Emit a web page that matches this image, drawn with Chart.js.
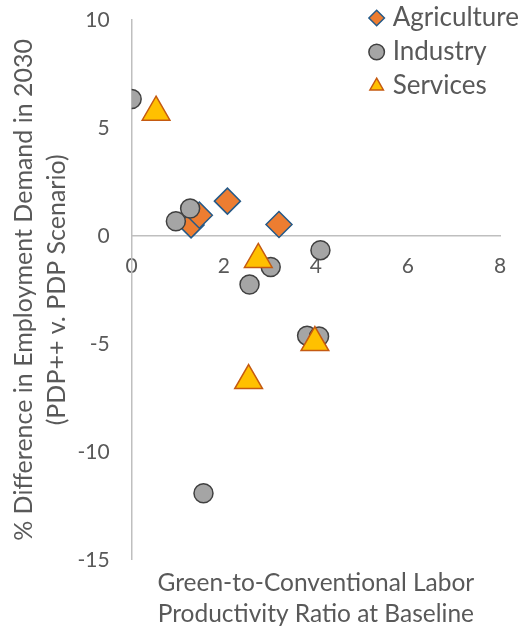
<!DOCTYPE html>
<html>
<head>
<meta charset="utf-8">
<script src="https://cdn.jsdelivr.net/npm/chart.js@4.4.1/dist/chart.umd.min.js"></script>
<style>
    html, body { margin: 0; padding: 0; background: #ffffff; }
    #wrap { width: 521px; height: 633px; }
</style>
</head>
<body>
<div id="wrap"><canvas id="scatter-chart"></canvas></div>
<script>
const seriesNames = ['Agriculture', 'Industry', 'Services'];

const agricultureX = [1.29, 1.47, 2.08, 3.20];
const agricultureY = [0.51, 0.96, 1.61, 0.53];

const industryX = [0.00, 0.96, 1.27, 2.56, 3.02, 4.10, 3.81, 4.07, 1.56];
const industryY = [6.34, 0.68, 1.27, -2.25, -1.44, -0.66, -4.62, -4.66, -11.92];

const servicesX = [0.53, 2.75, 2.54, 3.98];
const servicesY = [5.73, -1.09, -6.70, -4.94];

const xTicks = [0, 2, 4, 6, 8];
const yTicks = [-15, -10, -5, 0, 5, 10];

const xTitle = ['Green-to-Conventional Labor', 'Productivity Ratio at Baseline'];
const yTitle = ['% Difference in Employment Demand in 2030', '(PDP++ v. PDP Scenario)'];

const textColor = '#595959';
const axisColor = '#BFBFBF';
const fontFamily = 'Lato, "Open Sans", sans-serif';

function toPoints(xs, ys) {
    return xs.map((x, i) => ({ x, y: ys[i] }));
}

// move the legend into the top right corner, over the plot
const legendCorner = {
    id: 'legendCorner',
    afterLayout(chart) {
        const lg = chart.legend;
        if (!lg) return;
        const w = lg.width;
        const h = lg.height;
        lg.left = chart.width - w + 8;
        lg.top = -3;
        lg.right = lg.left + w;
        lg.bottom = lg.top + h;
    },
};

new Chart(document.getElementById('scatter-chart'), {
    type: 'scatter',
    data: {
        datasets: [
            {
                label: seriesNames[0],
                data: toPoints(agricultureX, agricultureY),
                pointStyle: 'rectRot',
                pointRadius: 13,
                pointHoverRadius: 13,
                backgroundColor: '#ED7D31',
                borderColor: '#265A88',
                borderWidth: 1.5,
                order: 3,
            },
            {
                label: seriesNames[1],
                data: toPoints(industryX, industryY),
                pointStyle: 'circle',
                pointRadius: 9.5,
                pointHoverRadius: 9.5,
                backgroundColor: '#A5A5A5',
                borderColor: '#404040',
                borderWidth: 1.5,
                order: 2,
            },
            {
                label: seriesNames[2],
                data: toPoints(servicesX, servicesY),
                pointStyle: 'triangle',
                pointRadius: 16,
                pointHoverRadius: 16,
                backgroundColor: '#FFC000',
                borderColor: '#C55A11',
                borderWidth: 1.5,
                order: 1,
            },
        ],
    },
    options: {
        responsive: true,
        maintainAspectRatio: false,
        animation: false,
        layout: {
            padding: { left: 7, right: 21, top: 20, bottom: 0 },
        },
        plugins: {
            legend: {
                position: 'chartArea',
                fullSize: false,
                align: 'start',
                labels: {
                    usePointStyle: true,
                    boxWidth: 6,
                    boxHeight: 11,
                    padding: 8,
                    color: textColor,
                    font: { family: fontFamily, size: 26 },
                    sort: (a, b) => a.datasetIndex - b.datasetIndex,
                },
            },
            tooltip: { enabled: false },
        },
        scales: {
            x: {
                type: 'linear',
                position: { y: 0 },
                min: 0,
                max: 8,
                afterBuildTicks: (axis) => {
                    axis.ticks = xTicks.map((v) => ({ value: v }));
                },
                // invisible tick marks give the gap between the zero line and the labels
                grid: { display: false, drawTicks: true, tickLength: 15 },
                border: { display: true, color: axisColor, width: 1.5 },
                ticks: {
                    color: textColor,
                    padding: 3,
                    maxRotation: 0,
                    font: { family: fontFamily, size: 21 },
                },
            },
            x2: {
                type: 'linear',
                position: 'bottom',
                min: 0,
                max: 8,
                grid: { display: false, drawTicks: false },
                border: { display: false },
                ticks: { display: false },
                title: {
                    display: true,
                    text: xTitle,
                    color: textColor,
                    font: { family: fontFamily, size: 24.5, lineHeight: 1.25 },
                    padding: { top: 8, bottom: 4 },
                },
            },
            y: {
                type: 'linear',
                position: 'left',
                min: -15,
                max: 10,
                afterBuildTicks: (axis) => {
                    axis.ticks = yTicks.map((v) => ({ value: v }));
                },
                grid: { display: false, drawTicks: true, tickLength: 19 },
                border: { display: true, color: axisColor, width: 1.5 },
                ticks: {
                    color: textColor,
                    padding: 3,
                    font: { family: fontFamily, size: 21 },
                },
                title: {
                    display: true,
                    text: yTitle,
                    color: textColor,
                    font: { family: fontFamily, size: 25, lineHeight: 1.3 },
                    padding: { top: 1, bottom: 1.5 },
                },
            },
        },
    },
    plugins: [legendCorner],
});
</script>
</body>
</html>
